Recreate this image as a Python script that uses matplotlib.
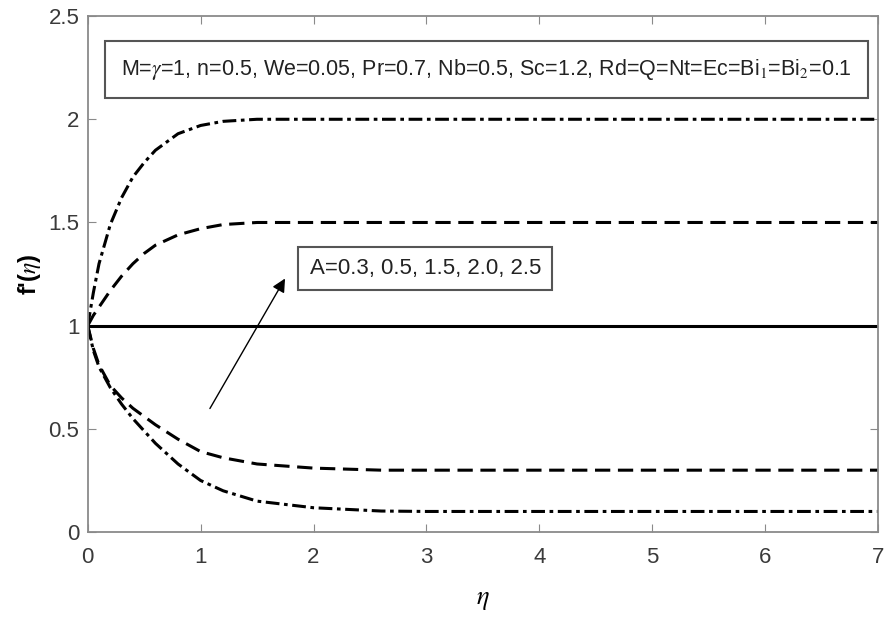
import matplotlib.pyplot as plt

plt.rcParams['font.family'] = ['Liberation Sans', 'DejaVu Sans']
plt.rcParams['mathtext.fontset'] = 'stix'

# eta values, shared by all curves
eta = [0.0, 0.05, 0.1, 0.2, 0.3, 0.4, 0.5, 0.6, 0.8, 1.0, 1.2, 1.5, 2.0, 2.6, 3.0, 4.0, 5.0, 6.0, 7.0]

# f'(eta) curves, one per A value
f_top = [1.0, 1.16, 1.30, 1.49, 1.62, 1.72, 1.79, 1.85, 1.93, 1.97, 1.99, 2.0, 2.0, 2.0, 2.0, 2.0, 2.0, 2.0, 2.0]
f_upper = [1.0, 1.05, 1.09, 1.17, 1.24, 1.30, 1.35, 1.39, 1.44, 1.47, 1.49, 1.50, 1.50, 1.50, 1.50, 1.50, 1.50, 1.50, 1.50]
f_mid = [1.0] * len(eta)
f_lower = [1.0, 0.89, 0.81, 0.71, 0.65, 0.60, 0.56, 0.52, 0.45, 0.39, 0.36, 0.33, 0.31, 0.30, 0.30, 0.30, 0.30, 0.30, 0.30]
f_bottom = [1.0, 0.88, 0.80, 0.70, 0.62, 0.55, 0.49, 0.43, 0.33, 0.25, 0.20, 0.15, 0.118, 0.102, 0.10, 0.10, 0.10, 0.10, 0.10]

curves = [f_top, f_upper, f_mid, f_lower, f_bottom]
dash_dot = (0, (4.5, 1.5, 1.2, 1.5))
dashed = (0, (5, 2.5))
styles = [dash_dot, dashed, '-', dashed, dash_dot]

params = (r'M=$\gamma$=1, n=0.5, We=0.05, Pr=0.7, Nb=0.5, Sc=1.2, '
          r'Rd=Q=Nt=Ec=Bi$_1$=Bi$_2$=0.1')
a_label = 'A=0.3, 0.5, 1.5, 2.0, 2.5'

fig = plt.figure(figsize=(8.86, 6.18), dpi=100)
ax = fig.add_axes([0.099, 0.139, 0.892, 0.835])

for f, ls in zip(curves, styles):
    ax.plot(eta, f, color='black', linestyle=ls, linewidth=2.2)

ax.set_xlim(0, 7)
ax.set_ylim(0, 2.5)
ax.set_xticks(range(0, 8))
ax.set_yticks([0, 0.5, 1, 1.5, 2, 2.5])
ax.set_yticklabels(['0', '0.5', '1', '1.5', '2', '2.5'])

for s in ax.spines.values():
    s.set_color('#8a8a8a')
    s.set_linewidth(1.3)
ax.tick_params(direction='in', top=True, right=True, color='#8a8a8a',
               labelcolor='#3a3a3a', labelsize=16, length=6)
ax.tick_params(axis='x', pad=11)
ax.tick_params(axis='y', pad=6)

ax.set_xlabel(r'$\eta$', fontsize=19, labelpad=14)
ax.set_ylabel(r"f'($\eta$)", fontsize=17, fontweight='bold', labelpad=4)

ax.text(3.53, 2.24, params, ha='center', va='center',
        fontsize=15.5, color='#222222',
        bbox=dict(boxstyle='square,pad=0.75', facecolor='white', edgecolor='#555555', linewidth=1.5))

ax.text(2.99, 1.277, a_label, ha='center', va='center', fontsize=16, color='#222222',
        bbox=dict(boxstyle='square,pad=0.5', facecolor='white', edgecolor='#555555', linewidth=1.5))

ax.annotate('', xy=(1.76, 1.24), xytext=(1.07, 0.587),
            arrowprops=dict(arrowstyle='-|>', color='black', lw=1.0, mutation_scale=20))

fig.savefig('out.png', dpi=100)
